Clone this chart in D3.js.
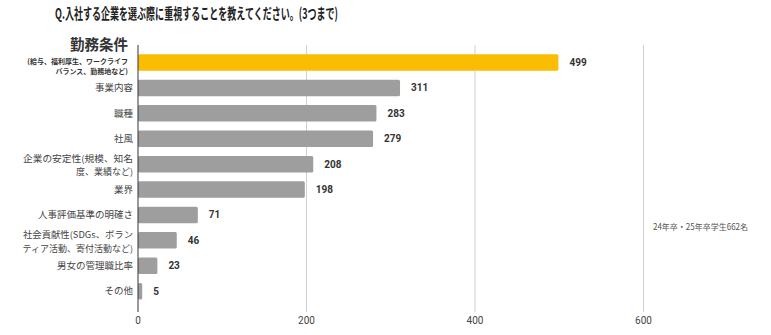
<!DOCTYPE html>
<html>
<head>
<meta charset="utf-8">
<script src="https://cdn.jsdelivr.net/npm/d3@7"></script>
<style>
  html, body { margin: 0; padding: 0; background: #fff; }
  svg { display: block; font-family: "Noto Sans CJK JP", "Noto Sans", sans-serif; }
</style>
</head>
<body>
<svg id="chart" width="771" height="335"></svg>
<script>
// Survey question and response counts
const title = "Q.入社する企業を選ぶ際に重視することを教えてください。(3つまで)";
const note = "24年卒・25年卒学生662名";
const categories = [
  "勤務条件",
  "事業内容",
  "職種",
  "社風",
  "企業の安定性(規模、知名度、業績など)",
  "業界",
  "人事評価基準の明確さ",
  "社会貢献性(SDGs、ボランティア活動、寄付活動など)",
  "男女の管理職比率",
  "その他"
];
// Wrapped label lines for each category
const labelLines = [
  ["勤務条件"],
  ["事業内容"],
  ["職種"],
  ["社風"],
  ["企業の安定性(規模、知名", "度、業績など)"],
  ["業界"],
  ["人事評価基準の明確さ"],
  ["社会貢献性(SDGs、ボラン", "ティア活動、寄付活動など)"],
  ["男女の管理職比率"],
  ["その他"]
];
const highlightSub = ["(給与、福利厚生、ワークライフ", "バランス、勤務地など)"];
const values = [499, 311, 283, 279, 208, 198, 71, 46, 23, 5];
const xTicks = [0, 200, 400, 600];

const svg = d3.select("#chart");
const x = d3.scaleLinear().domain([0, 600]).range([138, 643.5]);
const y = d3.scaleBand().domain(categories).range([49.85, 303.85])
  .paddingInner(0.35).paddingOuter(0.175);

// Title
svg.append("text")
  .attr("x", 55).attr("y", 19)
  .attr("font-size", 15).attr("font-weight", 700).attr("fill", "#222")
  .attr("textLength", 283).attr("lengthAdjust", "spacingAndGlyphs")
  .text(title);

// Gridlines and tick labels
const gTop = 45, gBot = 312;
svg.append("g").selectAll("line").data(xTicks.filter(d => d > 0)).join("line")
  .attr("x1", d => x(d)).attr("x2", d => x(d))
  .attr("y1", gTop).attr("y2", gBot)
  .attr("stroke", "#d0d0d0").attr("stroke-width", 1);

svg.append("g").selectAll("text").data(xTicks).join("text")
  .attr("x", d => x(d)).attr("y", 324)
  .attr("text-anchor", "middle").attr("font-size", 10).attr("fill", "#444")
  .attr("font-family", "Roboto, 'Noto Sans', sans-serif")
  .text(d => d);

// Bars
svg.append("g").selectAll("rect").data(values).join("rect")
  .attr("x", x(0))
  .attr("y", (d, i) => y(categories[i]))
  .attr("width", d => x(d) - x(0))
  .attr("height", y.bandwidth())
  .attr("rx", 1.5)
  .attr("fill", (d, i) => i === 0 ? "#fbbc04" : "#9e9e9e");

// Value labels
svg.append("g").selectAll("text").data(values).join("text")
  .attr("x", d => x(d) + 11)
  .attr("y", (d, i) => y(categories[i]) + y.bandwidth() / 2)
  .attr("dy", "0.35em")
  .attr("font-size", 10).attr("font-weight", 700).attr("fill", "#333")
  .attr("font-family", "Roboto, 'Noto Sans', sans-serif")
  .text(d => d);

// Category labels
const lab = svg.append("g");
categories.forEach((c, i) => {
  const cy = y(c) + y.bandwidth() / 2;
  if (i === 0) {
    lab.append("text")
      .attr("x", 128).attr("y", 50).attr("text-anchor", "end")
      .attr("font-size", 14.5).attr("font-weight", 700).attr("fill", "#333")
      .attr("textLength", 58).attr("lengthAdjust", "spacingAndGlyphs")
      .text(labelLines[0][0]);
    highlightSub.forEach((s, k) => {
      lab.append("text")
        .attr("x", 128).attr("y", 64 + k * 10).attr("text-anchor", "end")
        .attr("font-size", 7).attr("font-weight", 700).attr("fill", "#333")
        .text(s);
    });
    return;
  }
  const lines = labelLines[i];
  const multi = lines.length > 1;
  const lh = 13.2;
  lines.forEach((s, k) => {
    lab.append("text")
      .attr("x", 133)
      .attr("y", cy + (multi ? 1.5 : 0) + (k - (lines.length - 1) / 2) * lh)
      .attr("dy", "0.35em")
      .attr("text-anchor", "end")
      .attr("font-size", multi ? 9 : 9.5).attr("fill", "#444")
      .attr("textLength", multi && k === 0 ? 110 : null)
      .attr("lengthAdjust", "spacingAndGlyphs")
      .text(s);
  });
});

// Baseline axis
svg.append("line")
  .attr("x1", x(0)).attr("x2", x(0)).attr("y1", gTop).attr("y2", gBot)
  .attr("stroke", "#333").attr("stroke-width", 1);

// Respondent note
svg.append("text")
  .attr("x", 653).attr("y", 227).attr("dy", "0.35em")
  .attr("font-size", 8.5).attr("fill", "#555")
  .attr("textLength", 95).attr("lengthAdjust", "spacingAndGlyphs")
  .text(note);
</script>
</body>
</html>
